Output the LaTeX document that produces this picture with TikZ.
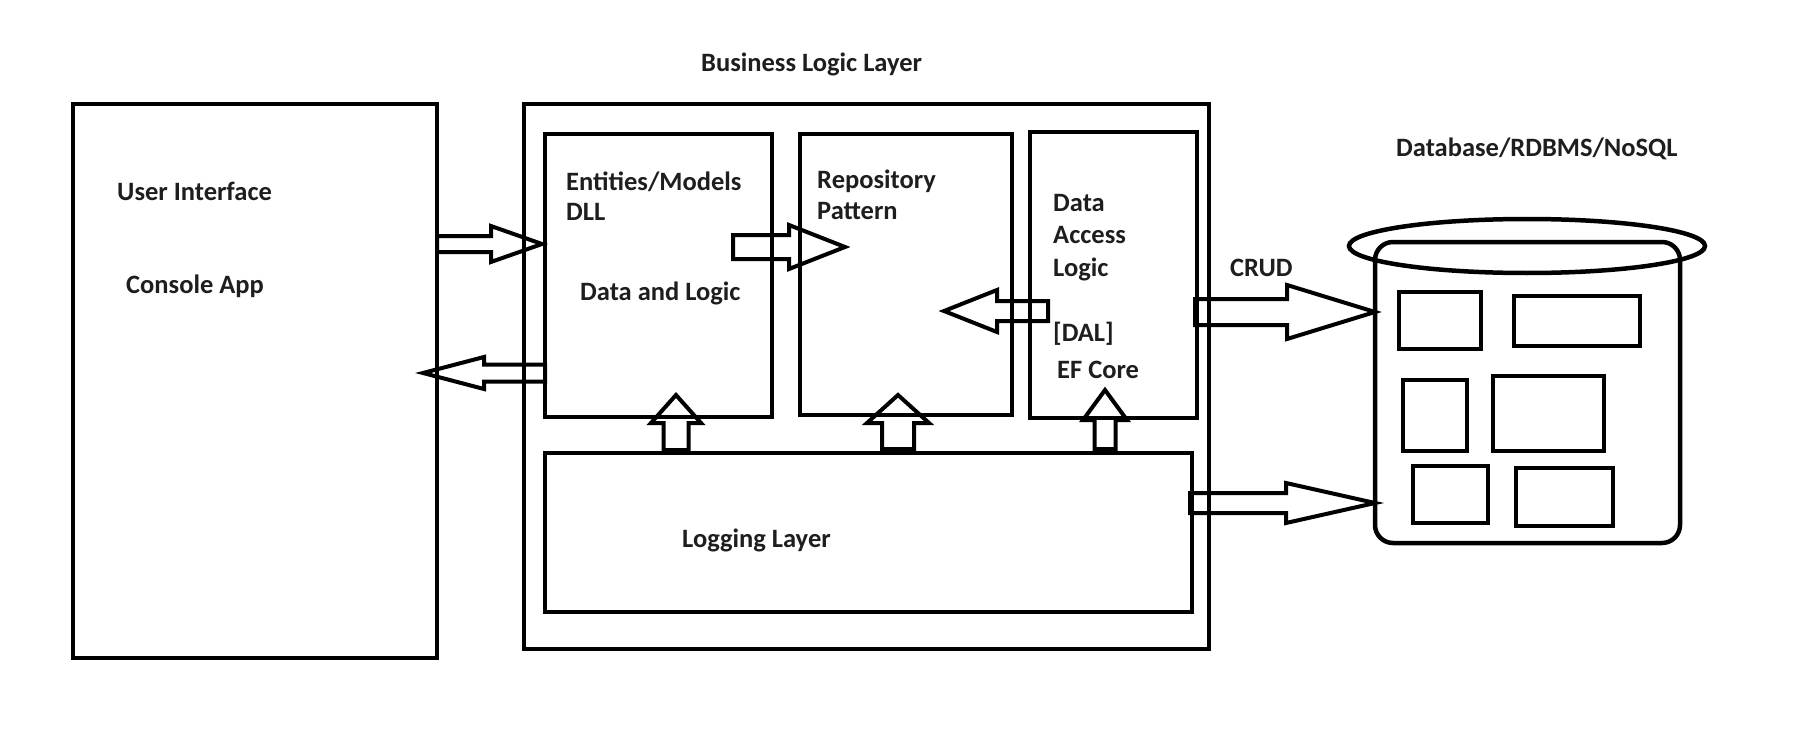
\documentclass[tikz,border=0pt]{standalone}
\usepackage{fontspec}
\setmainfont{Carlito}
\usetikzlibrary{calc,shapes.geometric}
\definecolor{txt}{RGB}{30,30,30}
\newcommand{\blockarrow}[5]{% tail, tip, shaft half, head half, head length
  \coordinate (hbtmp) at ($(#2)!#5!(#1)$);
  \draw[barr] ($(#1)!#3!90:(#2)$) -- ($(hbtmp)!#3!90:(#2)$) -- ($(hbtmp)!#4!90:(#2)$) -- (#2)
     -- ($(hbtmp)!#4!-90:(#2)$) -- ($(hbtmp)!#3!-90:(#2)$) -- ($(#1)!#3!-90:(#2)$) -- cycle;
}
\begin{document}
\begin{tikzpicture}[x=1pt,y=-1pt,
  box/.style={draw, line width=4.5pt, inner sep=0pt, outer sep=0pt, anchor=north west},
  smallbox/.style={draw, line width=4pt, inner sep=0pt, outer sep=0pt, anchor=north west},
  lbl/.style={inner sep=0pt, anchor=west, text height=17pt, text depth=0pt,
    font=\fontsize{26.5}{32}\selectfont\bfseries, text=txt},
  barr/.style={draw, line width=4pt, line join=miter}]
\useasboundingbox (0,0) rectangle (1809,746);
\fill[white] (0,0) rectangle (1809,746);

% main boxes
\node[box, minimum width=364pt, minimum height=554pt] (ui) at (73,104) {};
\node[box, minimum width=685pt, minimum height=545pt] (bll) at (524,104) {};
\node[box, minimum width=227pt, minimum height=283pt] (ent) at (545,134) {};
\node[box, minimum width=212pt, minimum height=281pt] (repo) at (800,134) {};
\node[box, minimum width=167pt, minimum height=286pt] (dal) at (1030,132) {};
\node[box, minimum width=647pt, minimum height=159pt] (log) at (545,453) {};

% database
\node[box, rounded corners=18pt, minimum width=305pt, minimum height=301pt] (db) at (1375,242) {};
\node[draw, ellipse, line width=4.5pt, inner sep=0pt, minimum width=356pt, minimum height=54pt] (dbtop) at (1527,246) {};
\node[smallbox, minimum width=82pt, minimum height=57pt] (t1) at (1399,292) {};
\node[smallbox, minimum width=126pt, minimum height=50pt] (t2) at (1514,296) {};
\node[smallbox, minimum width=64pt, minimum height=71pt] (t3) at (1403,380) {};
\node[smallbox, minimum width=111pt, minimum height=75pt] (t4) at (1493,376) {};
\node[smallbox, minimum width=75pt, minimum height=57pt] (t5) at (1413,466) {};
\node[smallbox, minimum width=97pt, minimum height=58pt] (t6) at (1516,468) {};

% texts
\node[lbl] (tbll) at (701,63) {Business Logic Layer};
\node[lbl] (tui) at (117,192) {User Interface};
\node[lbl] (tca) at (126,285) {Console App};
\node[lbl] (tent) at (566,182) {Entities/Models};
\node[lbl] (tdll) at (566,212) {DLL};
\node[lbl] (tdl) at (580,292) {Data and Logic};
\node[lbl] (trep) at (817,180) {Repository};
\node[lbl] (tpat) at (817,211) {Pattern};
\node[lbl] (tdata) at (1053,203) {Data};
\node[lbl] (tacc) at (1053,235) {Access};
\node[lbl] (tlog) at (1053,268) {Logic};
\node[lbl] (tdal) at (1053,333) {[DAL]};
\node[lbl] (tef) at (1057,370) {EF Core};
\node[lbl] (tcrud) at (1230,268) {CRUD};
\node[lbl] (tdb) at (1396,148) {Database/RDBMS/NoSQL};
\node[lbl] (tlogl) at (682,539) {Logging Layer};

% arrow end points
\coordinate (a1s) at (ui.east |- 0,244);
\coordinate (a1e) at (542,244);
\coordinate (a2s) at (ent.west |- 0,373);
\coordinate (a2e) at (423,373);
\coordinate (a3s) at (733,247);
\coordinate (a3e) at (845,247);
\coordinate (a4s) at (1048,311);
\coordinate (a4e) at (944,311);
\coordinate (a5s) at (1195,312);
\coordinate (a5e) at (db.west |- 0,312);
\coordinate (a6s) at (1190,503);
\coordinate (a6e) at (db.west |- 0,503);
\coordinate (u1s) at (676,450);
\coordinate (u1e) at (676,395);
\coordinate (u2s) at (898,449);
\coordinate (u2e) at (898,395);
\coordinate (u3s) at (1105,449);
\coordinate (u3e) at (1105,390);

\blockarrow{a1s}{a1e}{8pt}{18pt}{51pt}
\blockarrow{a2s}{a2e}{8.5pt}{16pt}{61pt}
\blockarrow{a3s}{a3e}{12pt}{22pt}{56pt}
\blockarrow{a4s}{a4e}{10pt}{21pt}{53pt}
\blockarrow{a5s}{a5e}{13pt}{27pt}{88pt}
\blockarrow{a6s}{a6e}{10pt}{20pt}{89pt}
\blockarrow{u1s}{u1e}{12.5pt}{25pt}{28pt}
\blockarrow{u2s}{u2e}{16pt}{31pt}{28pt}
\blockarrow{u3s}{u3e}{10.5pt}{22pt}{30pt}
\end{tikzpicture}
\end{document}
